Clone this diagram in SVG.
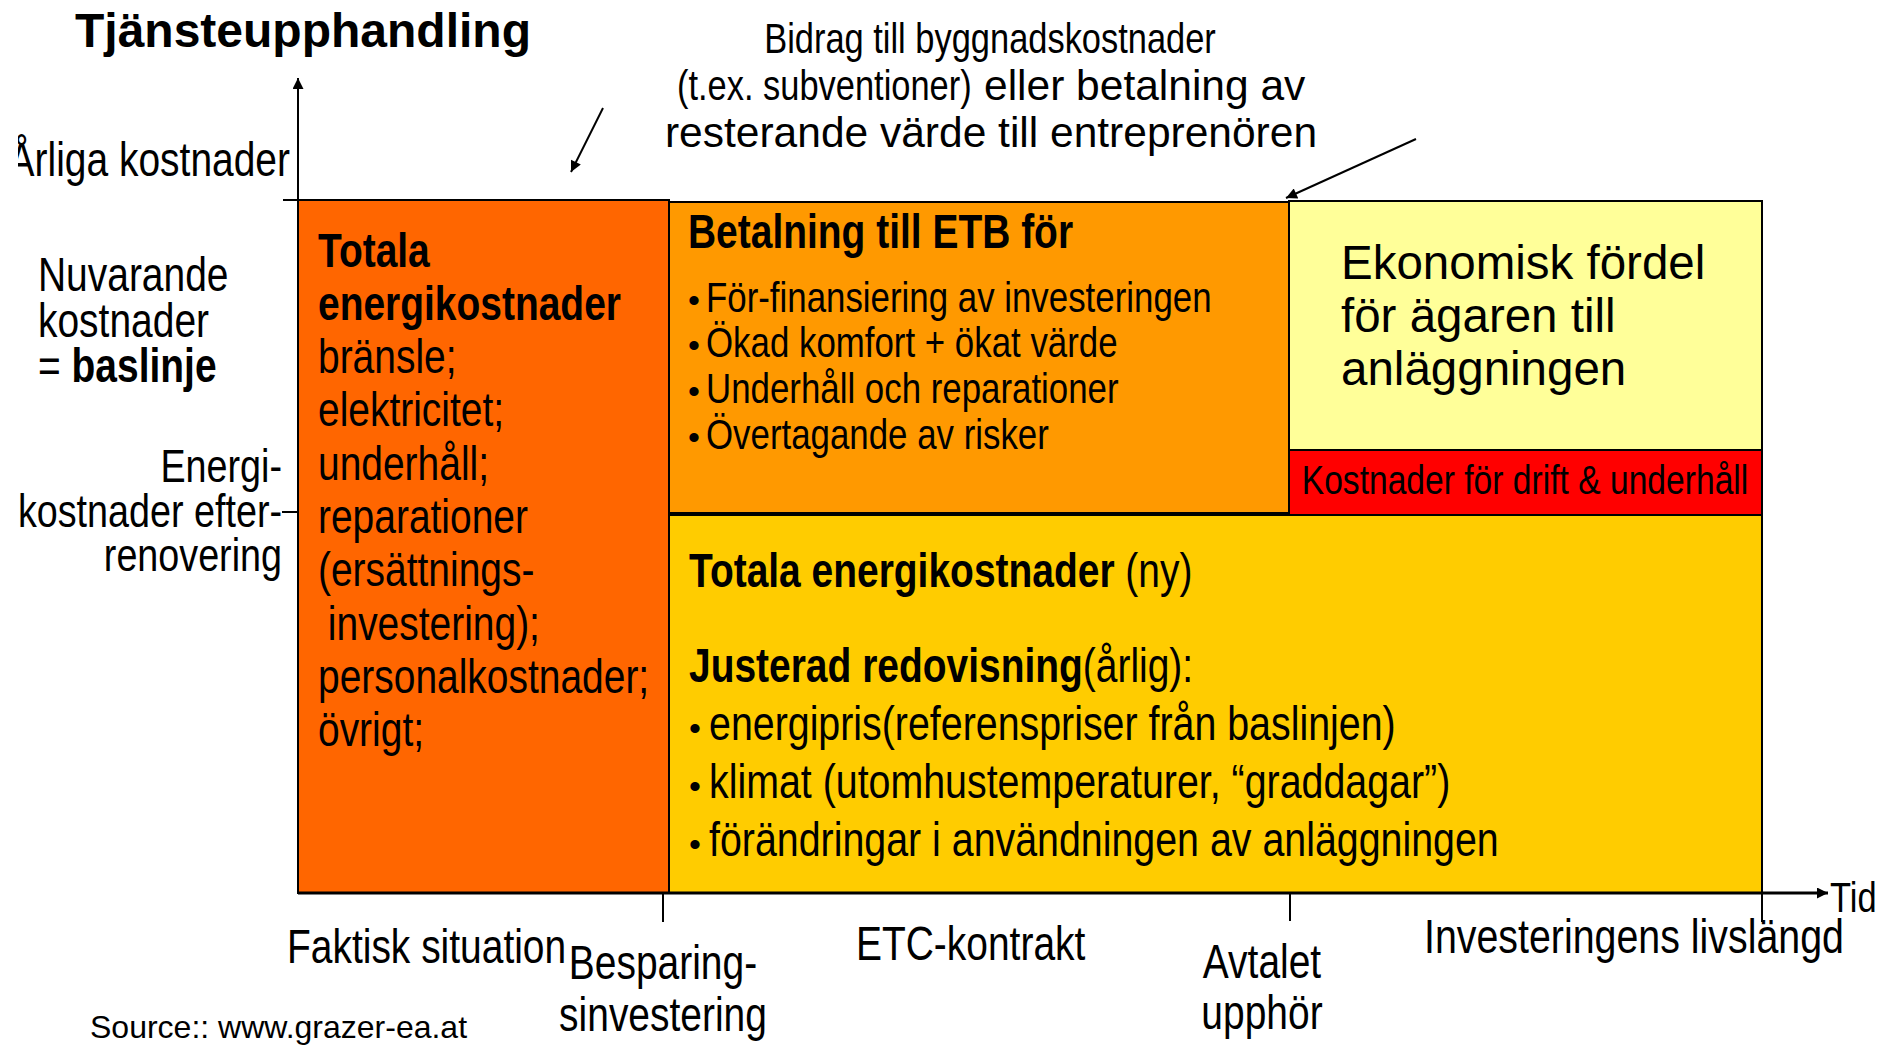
<svg xmlns="http://www.w3.org/2000/svg" width="1890" height="1045" viewBox="0 0 1890 1045">
<style>
  text { font-family: "Liberation Sans", Arial, sans-serif; fill: #000; }
  .s47 { font-size: 47.5px; }
  .s48 { font-size: 48px; }
  .s46 { font-size: 46px; }
  .s42 { font-size: 42px; }
  .s425 { font-size: 42.5px; }
  .s41 { font-size: 41px; }
  .b { font-weight: bold; }
  .mid { text-anchor: middle; }
  .end { text-anchor: end; }
  .box { stroke: #000; stroke-width: 2; }
  .ln { stroke: #000; stroke-width: 2; fill: none; }
  .dot { font-size: 34px; }
</style>
<defs>
  <marker id="ah" viewBox="0 0 10 10" refX="10" refY="5" markerWidth="15" markerHeight="11" markerUnits="userSpaceOnUse" orient="auto">
    <path d="M0,0 L10,5 L0,10 z" fill="#000"/>
  </marker>
  <clipPath id="clipL"><rect x="18" y="120" width="290" height="80"/></clipPath>
</defs>

<rect x="0" y="0" width="1890" height="1045" fill="#fff"/>

<g id="title">
  <text x="75" y="47" class="b" style="font-size:48px">Tjänsteupphandling</text>
</g>

<g id="note-top">
  <g transform="translate(990 0) scale(0.82 1)"><text x="0" y="53" class="s42 mid">Bidrag till byggnadskostnader</text></g>
  <g transform="translate(677 0) scale(0.82 1)"><text x="0" y="100" class="s42">(t.ex. subventioner)</text></g>
  <text x="984" y="100" style="font-size:42.5px">eller betalning av</text>
  <text x="991" y="147" class="mid" style="font-size:42.5px">resterande värde till entreprenören</text>
</g>

<g id="axis-labels">
  <g clip-path="url(#clipL)"><g transform="translate(290 0) scale(0.82 1)"><text x="0" y="176" class="s47 end">Årliga kostnader</text></g></g>
  <g transform="translate(38 0) scale(0.82 1)">
    <text x="0" y="291" class="s47">Nuvarande</text>
    <text x="0" y="337" class="s47">kostnader</text>
    <text x="0" y="382" class="s47">= <tspan class="b">baslinje</tspan></text>
  </g>
  <g transform="translate(282 0) scale(0.82 1)">
    <text x="0" y="482" class="s46 end">Energi-</text>
    <text x="0" y="527" class="s46 end">kostnader efter-</text>
    <text x="0" y="571" class="s46 end">renovering</text>
  </g>
</g>

<g id="box-faktisk">
  <rect x="298" y="200" width="371" height="693" fill="#FF6600" class="box"/>
  <g transform="translate(318 0) scale(0.82 1)">
    <text x="0" y="267" class="s47 b">Totala</text>
    <text x="0" y="320" class="s47 b">energikostnader</text>
    <text x="0" y="373" class="s47">bränsle;</text>
    <text x="0" y="426" class="s47">elektricitet;</text>
    <text x="0" y="480" class="s47">underhåll;</text>
    <text x="0" y="533" class="s47">reparationer</text>
    <text x="0" y="586" class="s47">(ersättnings-</text>
    <text x="12" y="640" class="s47">investering);</text>
    <text x="0" y="693" class="s47">personalkostnader;</text>
    <text x="0" y="746" class="s47">övrigt;</text>
  </g>
</g>

<g id="box-betalning">
  <rect x="669" y="202" width="620" height="311" fill="#FF9900" class="box"/>
  <g transform="translate(688 0) scale(0.82 1)"><text x="0" y="248" class="s47 b">Betalning till ETB för</text></g>
  <text x="688" y="312" class="dot">•</text>
  <text x="688" y="357" class="dot">•</text>
  <text x="688" y="403" class="dot">•</text>
  <text x="688" y="449" class="dot">•</text>
  <g transform="translate(706 0) scale(0.82 1)">
    <text x="0" y="312" class="s425">För-finansiering av investeringen</text>
    <text x="0" y="357" class="s425">Ökad komfort + ökat värde</text>
    <text x="0" y="403" class="s425">Underhåll och reparationer</text>
    <text x="0" y="449" class="s425">Övertagande av risker</text>
  </g>
</g>

<g id="box-fordel">
  <rect x="1289" y="201" width="473" height="249" fill="#FFFF99" class="box"/>
  <text x="1341" y="279" class="s47">Ekonomisk fördel</text>
  <text x="1341" y="332" class="s47">för ägaren till</text>
  <text x="1341" y="385" class="s47">anläggningen</text>
</g>

<g id="box-drift">
  <rect x="1289" y="450" width="473" height="65" fill="#FF0000" class="box"/>
  <g transform="translate(1525 0) scale(0.82 1)"><text x="0" y="494" class="s41 mid">Kostnader för drift &amp; underhåll</text></g>
</g>

<g id="box-totala-ny">
  <rect x="669" y="515" width="1093" height="378" fill="#FFCC00" class="box"/>
  <g transform="translate(689 0) scale(0.82 1)">
    <text x="0" y="587" class="s47"><tspan class="b">Totala energikostnader</tspan> (ny)</text>
    <text x="0" y="682" class="s47"><tspan class="b">Justerad redovisning</tspan>(årlig):</text>
  </g>
  <text x="689" y="740" class="dot">•</text>
  <text x="689" y="798" class="dot">•</text>
  <text x="689" y="856" class="dot">•</text>
  <g transform="translate(709 0) scale(0.82 1)">
    <text x="0" y="740" class="s48">energipris(referenspriser från baslinjen)</text>
    <text x="0" y="798" class="s48">klimat (utomhustemperaturer, “graddagar”)</text>
    <text x="0" y="856" class="s48">förändringar i användningen av anläggningen</text>
  </g>
</g>

<g id="connectors">
  <line x1="298" y1="893" x2="298" y2="78" class="ln" marker-end="url(#ah)"/>
  <line x1="298" y1="893" x2="1828" y2="893" class="ln" style="stroke-width:3" marker-end="url(#ah)"/>
  <line x1="283" y1="200" x2="298" y2="200" class="ln"/>
  <line x1="282" y1="512" x2="298" y2="512" class="ln"/>
  <line x1="663" y1="893" x2="663" y2="922" class="ln"/>
  <line x1="1290" y1="893" x2="1290" y2="921" class="ln"/>
  <line x1="1762" y1="893" x2="1762" y2="922" class="ln"/>
  <line x1="603" y1="108" x2="571" y2="172" class="ln" marker-end="url(#ah)"/>
  <line x1="1416" y1="139" x2="1286" y2="198" class="ln" marker-end="url(#ah)"/>
</g>

<g id="time-labels">
  <g transform="translate(1830 0) scale(0.82 1)"><text x="0" y="912" class="s42">Tid</text></g>
  <g transform="translate(287 0) scale(0.82 1)"><text x="0" y="963" class="s47">Faktisk situation</text></g>
  <g transform="translate(663 0) scale(0.82 1)">
    <text x="0" y="979" class="s47 mid">Besparing-</text>
    <text x="0" y="1031" class="s47 mid">sinvestering</text>
  </g>
  <g transform="translate(856 0) scale(0.82 1)"><text x="0" y="960" class="s47">ETC-kontrakt</text></g>
  <g transform="translate(1262 0) scale(0.82 1)">
    <text x="0" y="978" class="s47 mid">Avtalet</text>
    <text x="0" y="1029" class="s47 mid">upphör</text>
  </g>
  <g transform="translate(1424 0) scale(0.82 1)"><text x="0" y="953" class="s48">Investeringens livslängd</text></g>
</g>

<g id="source">
  <text x="90" y="1038" style="font-size:32px">Source:: www.grazer-ea.at</text>
</g>
</svg>
